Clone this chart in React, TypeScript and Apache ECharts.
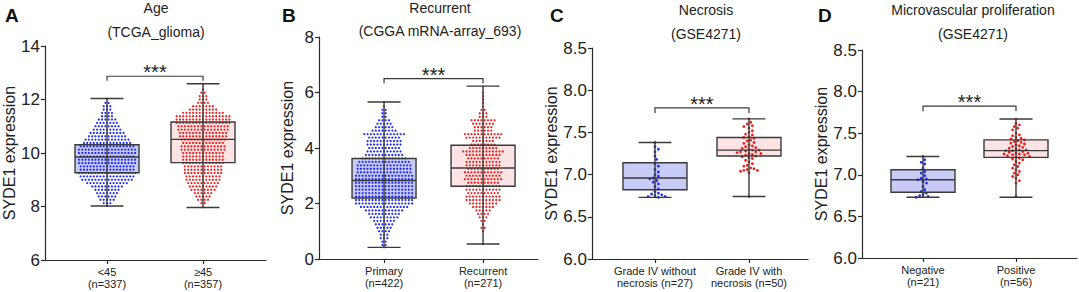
import React, { useEffect, useRef } from "react";
import * as echarts from "echarts";

// ---------- data ----------
const panelLetters = ["A", "B", "C", "D"];
const panelTitles = ["Age", "Recurrent", "Necrosis", "Microvascular proliferation"];
const panelSubtitles = ["(TCGA_glioma)", "(CGGA mRNA-array_693)", "(GSE4271)", "(GSE4271)"];
const yAxisName = "SYDE1 expression";

const categoriesA = ["<45\n(n=337)", "≥45\n(n=357)"];
const categoriesB = ["Primary\n(n=422)", "Recurrent\n(n=271)"];
const categoriesC = ["Grade IV without\nnecrosis (n=27)", "Grade IV with\nnecrosis (n=50)"];
const categoriesD = ["Negative\n(n=21)", "Positive\n(n=56)"];

// box statistics [min, Q1, median, Q3, max]
const boxA = [[8.02, 9.26, 9.85, 10.31, 12.04], [7.96, 9.64, 10.51, 11.16, 12.59]];
const boxB = [[0.42, 2.2, 2.83, 3.62, 5.66], [0.54, 2.62, 3.28, 4.1, 6.23]];
const boxC = [[6.73, 6.82, 6.96, 7.14, 7.38], [6.74, 7.22, 7.29, 7.44, 7.66]];
const boxD = [[6.73, 6.79, 6.94, 7.06, 7.22], [6.73, 7.21, 7.29, 7.42, 7.67]];

// significance brackets [top, drop]
const bracketA = [12.87, 12.7];
const bracketB = [6.5, 6.33];
const bracketC = [7.79, 7.73];
const bracketD = [7.825, 7.765];
const sigLabel = "***";

// Panel A dots as rows of the swarm (value, number of dots in the row)
const aLowRowY = [8.02, 8.125, 8.25, 8.375, 8.5, 8.625, 8.75, 8.875, 9.0, 9.125, 9.25, 9.375, 9.5, 9.625, 9.75, 9.875, 10.0, 10.125, 10.25, 10.375, 10.5, 10.625, 10.75, 10.875, 11.0, 11.125, 11.25, 11.375, 11.5, 11.625, 11.75, 11.875, 12.03];
const aLowRowN = [1, 3, 5, 6, 7, 8, 10, 13, 16, 17, 18, 17, 17, 18, 18, 17, 18, 18, 17, 15, 14, 12, 11, 9, 8, 7, 6, 4, 4, 3, 3, 2, 1];
const aHighRowY = [7.97, 8.125, 8.25, 8.375, 8.5, 8.625, 8.75, 8.875, 9.0, 9.125, 9.25, 9.375, 9.5, 9.625, 9.75, 9.875, 10.0, 10.125, 10.25, 10.375, 10.5, 10.625, 10.75, 10.875, 11.0, 11.125, 11.25, 11.375, 11.5, 11.625, 11.75, 11.875, 12.0, 12.125, 12.25, 12.375, 12.58];
const aHighRowN = [1, 2, 4, 5, 6, 8, 9, 10, 11, 11, 12, 12, 12, 13, 13, 13, 13, 14, 14, 13, 14, 15, 15, 16, 16, 17, 17, 17, 13, 9, 7, 4, 3, 3, 2, 1, 1];

// Panel B dots as rows
const bLowRowY = [0.42, 0.5, 0.625, 0.75, 0.875, 1.0, 1.125, 1.25, 1.375, 1.5, 1.625, 1.75, 1.875, 2.0, 2.125, 2.25, 2.375, 2.5, 2.625, 2.75, 2.875, 3.0, 3.125, 3.25, 3.375, 3.5, 3.625, 3.75, 3.875, 4.0, 4.125, 4.25, 4.375, 4.5, 4.625, 4.75, 4.875, 5.0, 5.125, 5.25, 5.375, 5.5, 5.66];
const bLowRowN = [1, 2, 2, 3, 3, 4, 5, 6, 7, 9, 10, 12, 15, 18, 18, 18, 18, 18, 18, 18, 18, 18, 17, 17, 17, 16, 14, 12, 11, 10, 11, 11, 10, 13, 8, 6, 5, 4, 2, 2, 2, 1, 1];
const bHighRowY = [0.54, 1.0, 1.125, 1.25, 1.375, 1.5, 1.625, 1.75, 1.875, 2.0, 2.125, 2.25, 2.375, 2.5, 2.625, 2.75, 2.875, 3.0, 3.125, 3.25, 3.375, 3.5, 3.625, 3.75, 3.875, 4.0, 4.125, 4.25, 4.375, 4.5, 4.625, 4.75, 4.875, 5.0, 5.125, 5.25, 5.375, 5.5, 5.625, 5.75, 5.875, 6.0, 6.22];
const bHighRowN = [1, 1, 2, 1, 2, 3, 4, 5, 7, 9, 11, 11, 10, 11, 11, 10, 12, 11, 12, 10, 11, 11, 10, 11, 13, 9, 8, 7, 11, 12, 6, 6, 7, 8, 3, 3, 2, 1, 1, 1, 1, 1, 1];

// Panels C and D: individual values
const cLow = [7.38, 7.33, 7.3, 7.27, 7.22, 7.18, 7.13, 7.1, 7.06, 7.03, 7.0, 6.98, 6.96, 6.95, 6.93, 6.91, 6.89, 6.86, 6.83, 6.8, 6.78, 6.77, 6.76, 6.75, 6.74, 6.74, 6.73];
const cHigh = [7.66, 7.62, 7.6, 7.58, 7.57, 7.55, 7.52, 7.5, 7.48, 7.47, 7.45, 7.44, 7.43, 7.41, 7.4, 7.38, 7.37, 7.35, 7.34, 7.33, 7.32, 7.31, 7.3, 7.29, 7.29, 7.28, 7.27, 7.27, 7.26, 7.25, 7.25, 7.24, 7.23, 7.22, 7.21, 7.2, 7.19, 7.17, 7.15, 7.13, 7.11, 7.1, 7.08, 7.07, 7.06, 7.05, 7.05, 7.04, 7.02, 6.74];
const dLow = [7.22, 7.18, 7.15, 7.13, 7.08, 7.04, 7.02, 6.99, 6.96, 6.95, 6.94, 6.92, 6.9, 6.86, 6.82, 6.8, 6.78, 6.76, 6.75, 6.74, 6.73];
const dHigh = [7.67, 7.62, 7.6, 7.58, 7.56, 7.54, 7.5, 7.48, 7.47, 7.45, 7.44, 7.43, 7.42, 7.41, 7.4, 7.39, 7.38, 7.37, 7.36, 7.35, 7.34, 7.33, 7.32, 7.31, 7.3, 7.3, 7.29, 7.29, 7.28, 7.27, 7.26, 7.26, 7.25, 7.25, 7.24, 7.24, 7.23, 7.22, 7.21, 7.2, 7.19, 7.18, 7.16, 7.14, 7.12, 7.1, 7.08, 7.06, 7.04, 7.02, 7.0, 6.98, 6.96, 6.93, 6.9, 6.74];

// ---------- layout / style ----------
const FONT = "'Liberation Sans', Arial, Helvetica, sans-serif";
const AXIS_COLOR = "#2a2a2a";
const BOX_STROKE = "#3a3a3a";
const FILLS = ["#c8cbf6", "#fde3e3"];
const DOTS = ["#1e2cf5", "#f21d1d"];

type Panel = {
  left: number; top: number; width: number; height: number;
  xMin: number; xMax: number; yMin: number; yMax: number; yInterval: number;
  decimals: number; nameGap: number; dot: number; spacing: number;
  titleX: number; titleY: number; subY: number; letterX: number;
};

const panels: Panel[] = [
  { left: 45, top: 46, width: 221, height: 214, xMin: 0.354, xMax: 2.656, yMin: 6, yMax: 14, yInterval: 2, decimals: 0, nameGap: 27, dot: 2.2, spacing: 3.3, titleX: 156, titleY: 8, subY: 32, letterX: 5 },
  { left: 319, top: 37, width: 219, height: 222, xMin: 0.343, xMax: 2.555, yMin: 0, yMax: 8, yInterval: 2, decimals: 0, nameGap: 24, dot: 2.2, spacing: 3.3, titleX: 440, titleY: 8, subY: 31, letterX: 282 },
  { left: 592, top: 48, width: 216, height: 211, xMin: 0.33, xMax: 2.628, yMin: 6, yMax: 8.5, yInterval: 0.5, decimals: 1, nameGap: 31, dot: 2.8, spacing: 3.4, titleX: 706, titleY: 10, subY: 34, letterX: 550 },
  { left: 862, top: 50, width: 215, height: 208, xMin: 0.344, xMax: 2.656, yMin: 6, yMax: 8.5, yInterval: 0.5, decimals: 1, nameGap: 33, dot: 2.8, spacing: 3.4, titleX: 973, titleY: 10, subY: 34, letterX: 818 },
];

const categories = [categoriesA, categoriesB, categoriesC, categoriesD];
const boxes = [boxA, boxB, boxC, boxD];
const brackets = [bracketA, bracketB, bracketC, bracketD];

function rowsToPoints(center: number, ys: number[], ns: number[], pxPerX: number, spacing: number) {
  const pts: number[][] = [];
  ys.forEach((y, i) => {
    const c = ns[i];
    for (let j = 0; j < c; j++) {
      const dx = (j - (c - 1) / 2) * spacing;
      pts.push([center + dx / pxPerX, y]);
    }
  });
  return pts;
}

function swarm(center: number, values: number[], pxPerX: number, pxPerY: number, d: number) {
  const sorted = [...values].sort((a, b) => b - a);
  const placed: { dx: number; py: number }[] = [];
  const pts: number[][] = [];
  for (const v of sorted) {
    const py = v * pxPerY;
    let chosen = 0;
    for (let k = 0; k < 200; k++) {
      const m = Math.ceil(k / 2) * (k % 2 === 1 ? 1 : -1) * d * 0.5;
      let ok = true;
      for (const p of placed) {
        const dy = p.py - py;
        if (Math.abs(dy) >= d) continue;
        const dx = p.dx - m;
        if (dx * dx + dy * dy < d * d) { ok = false; break; }
      }
      if (ok) { chosen = m; break; }
    }
    placed.push({ dx: chosen, py });
    pts.push([center + chosen / pxPerX, v]);
  }
  return pts;
}

export default function App() {
  const ref = useRef<HTMLDivElement>(null);
  useEffect(() => {
    if (!ref.current) return;
    const chart = echarts.init(ref.current, undefined, { renderer: "svg" });

    const grid: any[] = [];
    const xAxis: any[] = [];
    const yAxis: any[] = [];
    const series: any[] = [];
    const graphic: any[] = [];

    panels.forEach((p, i) => {
      const pxPerX = p.width / (p.xMax - p.xMin);
      const pxPerY = p.height / (p.yMax - p.yMin);
      grid.push({ left: p.left, top: p.top, width: p.width, height: p.height });
      const labels = categories[i];
      xAxis.push({
        type: "value", gridIndex: i, min: p.xMin, max: p.xMax,
        splitLine: { show: false },
        axisLine: { show: true, onZero: false, lineStyle: { color: AXIS_COLOR, width: 1.2 } },
        axisTick: { show: true, customValues: [1, 2], length: 4, lineStyle: { color: AXIS_COLOR, width: 1.2 } },
        axisLabel: {
          show: true, customValues: [1, 2], margin: 6,
          formatter: (v: number) => labels[Math.round(v) - 1] ?? "",
          fontSize: 11, lineHeight: 12, color: "#222", fontFamily: FONT,
        },
      });
      yAxis.push({
        type: "value", gridIndex: i, min: p.yMin, max: p.yMax, interval: p.yInterval,
        splitLine: { show: false },
        axisLine: { show: true, onZero: false, lineStyle: { color: AXIS_COLOR, width: 1.2 } },
        axisTick: { show: true, length: 4, lineStyle: { color: AXIS_COLOR, width: 1.2 } },
        axisLabel: {
          fontSize: 17, color: "#222", margin: 5, fontFamily: FONT,
          formatter: (v: number) => v.toFixed(p.decimals),
        },
        name: yAxisName, nameLocation: "middle", nameGap: p.nameGap,
        nameTextStyle: { fontSize: 16, color: "#222", fontFamily: FONT },
      });

      const b = boxes[i];
      const boxData = b.map((s, k) => [k + 1, ...s]);
      series.push({
        type: "custom", xAxisIndex: i, yAxisIndex: i, z: 1, silent: true,
        data: boxData, encode: { x: 0, y: [1, 2, 3, 4, 5] },
        renderItem: (params: any, api: any) => {
          const x = api.value(0);
          const c = api.coord([x, api.value(3)]);
          const q1 = api.coord([x, api.value(2)])[1];
          const q3 = api.coord([x, api.value(4)])[1];
          const hw = 32;
          return {
            type: "rect",
            shape: { x: c[0] - hw, y: q3, width: hw * 2, height: q1 - q3 },
            style: { fill: FILLS[params.dataIndex], stroke: "none" },
          };
        },
      });

      let ptsLow: number[][];
      let ptsHigh: number[][];
      if (i === 0) {
        ptsLow = rowsToPoints(1, aLowRowY, aLowRowN, pxPerX, p.spacing);
        ptsHigh = rowsToPoints(2, aHighRowY, aHighRowN, pxPerX, p.spacing);
      } else if (i === 1) {
        ptsLow = rowsToPoints(1, bLowRowY, bLowRowN, pxPerX, p.spacing);
        ptsHigh = rowsToPoints(2, bHighRowY, bHighRowN, pxPerX, p.spacing);
      } else if (i === 2) {
        ptsLow = swarm(1, cLow, pxPerX, pxPerY, p.spacing);
        ptsHigh = swarm(2, cHigh, pxPerX, pxPerY, p.spacing);
      } else {
        ptsLow = swarm(1, dLow, pxPerX, pxPerY, p.spacing);
        ptsHigh = swarm(2, dHigh, pxPerX, pxPerY, p.spacing);
      }
      [ptsLow, ptsHigh].forEach((pts, k) => {
        series.push({
          type: "scatter", xAxisIndex: i, yAxisIndex: i, z: 2, silent: true,
          symbol: "circle", symbolSize: p.dot, data: pts,
          itemStyle: { color: DOTS[k], opacity: 1 },
          progressive: 0, large: false,
        });
      });

      series.push({
        type: "custom", xAxisIndex: i, yAxisIndex: i, z: 3, silent: true,
        data: boxData, encode: { x: 0, y: [1, 2, 3, 4, 5] },
        renderItem: (params: any, api: any) => {
          const x = api.value(0);
          const yMin = api.coord([x, api.value(1)]);
          const q1 = api.coord([x, api.value(2)])[1];
          const med = api.coord([x, api.value(3)])[1];
          const q3 = api.coord([x, api.value(4)])[1];
          const yMax = api.coord([x, api.value(5)])[1];
          const cx = yMin[0];
          const hw = 32;
          const cw = 16.5;
          const ls = { stroke: BOX_STROKE, lineWidth: 1.4, fill: "none" };
          return {
            type: "group",
            children: [
              { type: "line", shape: { x1: cx, y1: yMin[1], x2: cx, y2: yMax }, style: ls },
              { type: "line", shape: { x1: cx - cw, y1: yMin[1], x2: cx + cw, y2: yMin[1] }, style: ls },
              { type: "line", shape: { x1: cx - cw, y1: yMax, x2: cx + cw, y2: yMax }, style: ls },
              { type: "rect", shape: { x: cx - hw, y: q3, width: hw * 2, height: q1 - q3 }, style: ls },
              { type: "line", shape: { x1: cx - hw, y1: med, x2: cx + hw, y2: med }, style: ls },
            ],
          };
        },
      });

      const br = brackets[i];
      series.push({
        type: "custom", xAxisIndex: i, yAxisIndex: i, z: 3, silent: true,
        data: [[1, 2, br[0], br[1]]], encode: { x: [0, 1], y: [2, 3] },
        renderItem: (params: any, api: any) => {
          const a = api.coord([api.value(0), api.value(3)]);
          const bTop = api.coord([api.value(0), api.value(2)]);
          const cTop = api.coord([api.value(1), api.value(2)]);
          const d = api.coord([api.value(1), api.value(3)]);
          return {
            type: "group",
            children: [
              { type: "polyline", shape: { points: [a, bTop, cTop, d] }, style: { stroke: BOX_STROKE, lineWidth: 1.2, fill: "none" } },
              {
                type: "text",
                style: {
                  text: sigLabel, x: (bTop[0] + cTop[0]) / 2, y: bTop[1] - 4,
                  align: "center", verticalAlign: "middle",
                  fontSize: 20, fontFamily: FONT, fill: "#222",
                },
              },
            ],
          };
        },
      });

      graphic.push(
        { type: "text", left: p.letterX, top: 6, style: { text: panelLetters[i], fontSize: 19, fontWeight: "bold", fontFamily: FONT, fill: "#111" } },
        { type: "text", x: p.titleX, y: p.titleY, style: { text: panelTitles[i], align: "center", verticalAlign: "middle", fontSize: 14, fontFamily: FONT, fill: "#222" } },
        { type: "text", x: p.titleX, y: p.subY, style: { text: panelSubtitles[i], align: "center", verticalAlign: "middle", fontSize: 14, fontFamily: FONT, fill: "#222" } },
      );
    });

    chart.setOption({
      animation: false,
      backgroundColor: "#ffffff",
      textStyle: { fontFamily: FONT },
      grid, xAxis, yAxis, series, graphic,
    });
    return () => chart.dispose();
  }, []);

  return (
    <div
      ref={ref}
      style={{ position: "fixed", left: 0, top: 0, width: 1079, height: 292, background: "#fff" }}
    />
  );
}
